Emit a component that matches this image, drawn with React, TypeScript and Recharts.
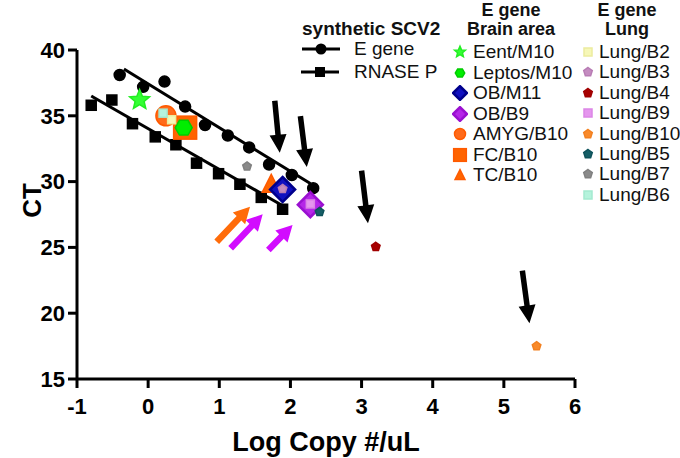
import React from 'react';
import { ScatterChart, Scatter, XAxis, YAxis, ReferenceLine } from 'recharts';

// synthetic SCV2 standards (log copy #/uL vs CT)
const E_GENE_LOG = [-0.4, -0.07, 0.23, 0.52, 0.8, 1.12, 1.42, 1.7, 2.02, 2.32];
const E_GENE_CT = [38.1, 37.2, 37.6, 35.7, 34.3, 33.5, 32.6, 31.3, 30.5, 29.5];
const RNASE_LOG = [-0.8, -0.51, -0.22, 0.1, 0.39, 0.68, 0.99, 1.29, 1.59, 1.89];
const RNASE_CT = [35.8, 36.2, 34.4, 33.4, 32.8, 31.4, 30.6, 29.8, 28.8, 27.9];

// fitted lines, end points
const E_FIT_LOG = [-0.34, 2.28];
const E_FIT_CT = [38.55, 29.85];
const RNASE_FIT_LOG = [-0.8, 1.88];
const RNASE_FIT_CT = [36.5, 28.2];

// E gene, brain area samples
const BRAIN_NAMES = ['Eent/M10', 'Leptos/M10', 'OB/M11', 'OB/B9', 'AMYG/B10', 'FC/B10', 'TC/B10'];
const BRAIN_LOG = [-0.12, 0.5, 1.89, 2.28, 0.25, 0.52, 1.73];
const BRAIN_CT = [36.2, 34.1, 29.4, 28.25, 35.0, 34.1, 29.8];

// E gene, lung samples
const LUNG_NAMES = ['Lung/B2', 'Lung/B3', 'Lung/B4', 'Lung/B9', 'Lung/B10', 'Lung/B5', 'Lung/B7', 'Lung/B6'];
const LUNG_LOG = [0.33, 1.89, 3.2, 2.28, 5.46, 2.41, 1.39, 0.21];
const LUNG_CT = [34.7, 29.45, 25.05, 28.3, 17.5, 27.7, 31.15, 35.2];

// annotation arrows: tail -> tip, in data units
const BLACK_ARROW_TAIL = [[1.78, 36.15], [2.14, 34.98], [3.0, 30.83], [5.26, 23.23]];
const BLACK_ARROW_TIP = [[1.85, 32.2], [2.23, 31.1], [3.09, 26.84], [5.36, 19.23]];
const COLOR_ARROW_TAIL = [[0.964, 25.43], [1.16, 24.93], [1.69, 24.8]];
const COLOR_ARROW_TIP = [[1.432, 28.09], [1.61, 27.52], [2.03, 26.7]];
const COLOR_ARROW_KEY = ['orange', 'magenta', 'magenta'];

const X_TICKS = [-1, 0, 1, 2, 3, 4, 5, 6];
const Y_TICKS = [15, 20, 25, 30, 35, 40];

const FONT = '"Liberation Sans", Arial, Helvetica, sans-serif';

const ARROW_COLORS: Record<string, string> = { orange: '#ff6c0a', magenta: '#d20cff' };

const BRAIN_STYLE = [
    { kind: 'star', size: 21, fill: '#33ff33', stroke: '#22ee22' },
    { kind: 'hexagon', size: 17, fill: '#00ee00', stroke: '#00cc00' },
    { kind: 'diamond', size: 25, fill: '#1010c0', stroke: '#00008c' },
    { kind: 'diamond', size: 25, fill: '#b526e8', stroke: '#9a10d0' },
    { kind: 'circle', size: 20, fill: '#ff6a1a', stroke: '#ff5a00' },
    { kind: 'square', size: 23, fill: '#ff6400', stroke: '#ff5a00' },
    { kind: 'triangle', size: 18, fill: '#ff6600', stroke: '#ff5a00' },
];
// draw order so overlaps look right
const BRAIN_ORDER = [5, 4, 1, 6, 2, 3, 0];

const LUNG_STYLE = [
    { kind: 'square', size: 8, fill: '#f6f7b8', stroke: '#ecec9e' },
    { kind: 'pentagon', size: 9, fill: '#c48cc0', stroke: '#b87cb4' },
    { kind: 'pentagon', size: 9, fill: '#a80000', stroke: '#a00000' },
    { kind: 'square', size: 8, fill: '#e596ee', stroke: '#dc86e6' },
    { kind: 'pentagon', size: 9, fill: '#f98a2a', stroke: '#f28020' },
    { kind: 'pentagon', size: 9, fill: '#155e66', stroke: '#0e525a' },
    { kind: 'pentagon', size: 9, fill: '#8a8a8a', stroke: '#808080' },
    { kind: 'square', size: 8, fill: '#b5f3dc', stroke: '#a4ead0' },
];

const regular = (cx: number, cy: number, r: number, n: number, rot: number) =>
    Array.from({ length: n }, (_, i) => {
        const a = ((rot + (i * 360) / n) * Math.PI) / 180;
        return `${cx + r * Math.cos(a)},${cy + r * Math.sin(a)}`;
    }).join(' ');

const Marker = ({ cx, cy, kind, size, fill, stroke }: any) => {
    if (cx == null || cy == null) return null;
    const r = size / 2;
    const common = { fill, stroke, strokeWidth: 1.5 };
    switch (kind) {
        case 'circle':
            return <circle cx={cx} cy={cy} r={r} {...common} />;
        case 'square':
            return <rect x={cx - r} y={cy - r} width={size} height={size} {...common} />;
        case 'diamond':
            return <polygon points={regular(cx, cy, r, 4, -90)} {...common} strokeWidth={2.5} />;
        case 'hexagon':
            return <polygon points={regular(cx, cy, r, 6, 0)} {...common} />;
        case 'pentagon':
            return <polygon points={regular(cx, cy, r, 5, -90)} {...common} />;
        case 'triangle':
            return <polygon points={`${cx},${cy - r * 1.1} ${cx + r},${cy + r * 0.9} ${cx - r},${cy + r * 0.9}`} {...common} />;
        case 'star': {
            const pts = Array.from({ length: 10 }, (_, i) => {
                const a = ((-90 + i * 36) * Math.PI) / 180;
                const rr = i % 2 ? r * 0.45 : r;
                return `${cx + rr * Math.cos(a)},${cy + rr * Math.sin(a)}`;
            }).join(' ');
            return <polygon points={pts} {...common} />;
        }
        default:
            return null;
    }
};

const Arrow = ({ x1, y1, x2, y2, color, shaft, head, halfHead }: any) => {
    if ([x1, y1, x2, y2].some((v) => v == null || isNaN(v))) return null;
    const len = Math.hypot(x2 - x1, y2 - y1);
    const dx = (x2 - x1) / len;
    const dy = (y2 - y1) / len;
    const nx = -dy;
    const ny = dx;
    const bx = x2 - dx * head;
    const by = y2 - dy * head;
    const w = shaft / 2;
    const pts = [
        [x1 + nx * w, y1 + ny * w],
        [bx + nx * w, by + ny * w],
        [bx + nx * halfHead, by + ny * halfHead],
        [x2, y2],
        [bx - nx * halfHead, by - ny * halfHead],
        [bx - nx * w, by - ny * w],
        [x1 - nx * w, y1 - ny * w],
    ]
        .map((p) => p.join(','))
        .join(' ');
    return <polygon points={pts} fill={color} />;
};

const XTitle = (props: any) => {
    const vb = props.viewBox || {};
    return (
        <text x={vb.x + vb.width / 2} y={vb.y + 72} textAnchor="middle"
            style={{ fontSize: 27, fontWeight: 700, fontFamily: FONT, fill: '#000' }}>
            Log Copy #/uL
        </text>
    );
};

const YTitle = (props: any) => {
    const vb = props.viewBox || {};
    const x = vb.x + 14;
    const y = vb.y + vb.height / 2 - 14;
    return (
        <text x={x} y={y} transform={`rotate(-90, ${x}, ${y})`} textAnchor="middle"
            style={{ fontSize: 26, fontWeight: 700, fontFamily: FONT, fill: '#000' }}>
            CT
        </text>
    );
};

const Icon = ({ style, box = 16 }: any) => (
    <svg width={box} height={box} style={{ display: 'block' }}>
        <Marker cx={box / 2} cy={box / 2} {...style} />
    </svg>
);

const LineIcon = ({ kind }: { kind: string }) => (
    <svg width={40} height={14} style={{ display: 'block' }}>
        <line x1={1} y1={7} x2={39} y2={7} stroke="#000" strokeWidth={3} />
        {kind === 'circle'
            ? <circle cx={20} cy={7} r={5.5} fill="#000" />
            : <rect x={15} y={2} width={10} height={10} fill="#000" />}
    </svg>
);

const txt = (left: number, cy: number, content: React.ReactNode, extra: any = {}) => (
    <div style={{
        position: 'absolute', left, top: cy - 11, height: 22, lineHeight: '22px',
        fontSize: 19, color: '#111', whiteSpace: 'nowrap', ...extra,
    }}>{content}</div>
);

const centered = (cx: number, cy: number, content: string, size = 18) => (
    <div style={{
        position: 'absolute', left: cx - 80, width: 160, top: cy - 11, height: 22, lineHeight: '22px',
        textAlign: 'center', fontSize: size, fontWeight: 700, color: '#111', whiteSpace: 'nowrap',
    }}>{content}</div>
);

const ChartLegend = () => (
    <div style={{ position: 'absolute', left: 0, top: 0, width: 680, height: 458, pointerEvents: 'none', fontFamily: FONT }}>
        {txt(302, 29, 'synthetic SCV2', { fontWeight: 700 })}
        <div style={{ position: 'absolute', left: 301, top: 42 }}><LineIcon kind="circle" /></div>
        {txt(354, 49, 'E gene')}
        <div style={{ position: 'absolute', left: 300, top: 65 }}><LineIcon kind="square" /></div>
        {txt(354, 72, 'RNASE P')}

        {centered(511, 10, 'E gene')}
        {centered(511, 29, 'Brain area')}
        {BRAIN_NAMES.map((name, i) => {
            const cy = 52 + i * 20.5;
            return (
                <React.Fragment key={name}>
                    <div style={{ position: 'absolute', left: 452, top: cy - 8 }}>
                        <Icon style={{ ...BRAIN_STYLE[i], size: Math.min(BRAIN_STYLE[i].size * 0.55, 14) }} />
                    </div>
                    {txt(473, cy, name)}
                </React.Fragment>
            );
        })}

        {centered(627, 10, 'E gene')}
        {centered(627, 29, 'Lung')}
        {LUNG_NAMES.map((name, i) => {
            const cy = 52 + i * 20.4;
            return (
                <React.Fragment key={name}>
                    <div style={{ position: 'absolute', left: 580, top: cy - 8 }}>
                        <Icon style={LUNG_STYLE[i]} />
                    </div>
                    {txt(599, cy, name)}
                </React.Fragment>
            );
        })}
    </div>
);

const pts = (xs: number[], ys: number[]) => xs.map((x, i) => ({ x, y: ys[i] }));

export default function App() {
    const eGene = pts(E_GENE_LOG, E_GENE_CT);
    const rnase = pts(RNASE_LOG, RNASE_CT);
    const eFit = pts(E_FIT_LOG, E_FIT_CT);
    const rnaseFit = pts(RNASE_FIT_LOG, RNASE_FIT_CT);

    const tick = { fontSize: 22, fontWeight: 700, fill: '#000', fontFamily: FONT };

    return (
        <div style={{ position: 'absolute', left: 0, top: 0, width: 680, height: 458, background: '#fff', fontFamily: FONT }}>
            <ScatterChart width={680} height={458} margin={{ top: 50, right: 105, bottom: 4, left: 27 }}>
                <XAxis type="number" dataKey="x" domain={[-1, 6]} ticks={X_TICKS} height={75}
                    axisLine={{ stroke: '#000', strokeWidth: 3 }}
                    tickLine={{ stroke: '#000', strokeWidth: 3 }}
                    tickSize={9} tickMargin={10} tick={tick}
                    allowDataOverflow label={XTitle} />
                <YAxis type="number" dataKey="y" domain={[15, 40]} ticks={Y_TICKS} width={50}
                    axisLine={{ stroke: '#000', strokeWidth: 3 }}
                    tickLine={{ stroke: '#000', strokeWidth: 3 }}
                    tickSize={9} tickMargin={3} tick={tick}
                    allowDataOverflow label={YTitle} />

                <Scatter data={eFit} line={{ stroke: '#000', strokeWidth: 3 }} shape={() => <g />} isAnimationActive={false} />
                <Scatter data={rnaseFit} line={{ stroke: '#000', strokeWidth: 3 }} shape={() => <g />} isAnimationActive={false} />
                <Scatter data={eGene} isAnimationActive={false}
                    shape={(p: any) => <Marker cx={p.cx} cy={p.cy} kind="circle" size={11} fill="#000" stroke="#000" />} />
                <Scatter data={rnase} isAnimationActive={false}
                    shape={(p: any) => <Marker cx={p.cx} cy={p.cy} kind="square" size={10} fill="#000" stroke="#000" />} />

                {BRAIN_ORDER.map((i) => (
                    <Scatter key={BRAIN_NAMES[i]} name={BRAIN_NAMES[i]} data={[{ x: BRAIN_LOG[i], y: BRAIN_CT[i] }]}
                        isAnimationActive={false}
                        shape={(p: any) => <Marker cx={p.cx} cy={p.cy} {...BRAIN_STYLE[i]} />} />
                ))}
                {LUNG_NAMES.map((name, i) => (
                    <Scatter key={name} name={name} data={[{ x: LUNG_LOG[i], y: LUNG_CT[i] }]}
                        isAnimationActive={false}
                        shape={(p: any) => <Marker cx={p.cx} cy={p.cy} {...LUNG_STYLE[i]} />} />
                ))}

                {BLACK_ARROW_TAIL.map((t, i) => (
                    <ReferenceLine key={`ba${i}`} ifOverflow="visible"
                        segment={[{ x: t[0], y: t[1] }, { x: BLACK_ARROW_TIP[i][0], y: BLACK_ARROW_TIP[i][1] }]}
                        shape={(p: any) => <Arrow {...p} color="#000" shaft={5.5} head={18} halfHead={8.5} />} />
                ))}
                {COLOR_ARROW_TAIL.map((t, i) => (
                    <ReferenceLine key={`ca${i}`} ifOverflow="visible"
                        segment={[{ x: t[0], y: t[1] }, { x: COLOR_ARROW_TIP[i][0], y: COLOR_ARROW_TIP[i][1] }]}
                        shape={(p: any) => <Arrow {...p} color={ARROW_COLORS[COLOR_ARROW_KEY[i]]} shaft={6.5} head={16} halfHead={8.5} />} />
                ))}
            </ScatterChart>
            <ChartLegend />
        </div>
    );
}
